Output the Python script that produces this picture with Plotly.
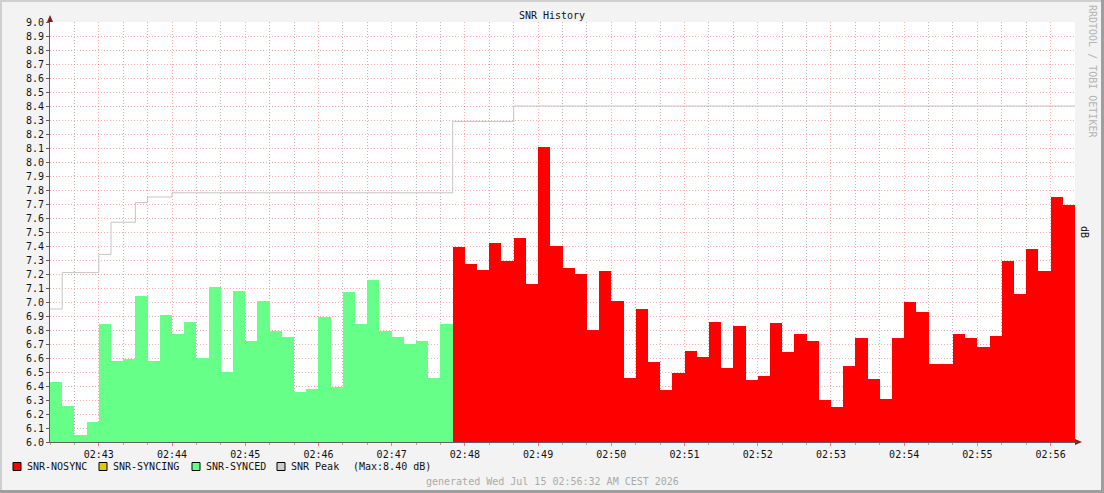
import plotly.graph_objects as go
import pandas as pd

# SNR samples, 10 s steps from 02:42:20
synced = [6.43, 6.26, 6.05, 6.14, 6.84, 6.58, 6.59, 7.04, 6.58, 6.91,
          6.77, 6.86, 6.60, 7.11, 6.50, 7.08, 6.72, 7.01, 6.79, 6.75,
          6.36, 6.38, 6.89, 6.39, 7.07, 6.84, 7.16, 6.79, 6.75, 6.70,
          6.72, 6.46, 6.84]
nosync = [7.39, 7.27, 7.23, 7.42, 7.29, 7.46, 7.13, 8.11, 7.40, 7.24,
          7.20, 6.80, 7.22, 7.01, 6.46, 6.95, 6.57, 6.37, 6.49, 6.65,
          6.61, 6.86, 6.53, 6.83, 6.44, 6.47, 6.85, 6.64, 6.77, 6.72,
          6.30, 6.25, 6.54, 6.74, 6.45, 6.31, 6.74, 7.00, 6.93, 6.56,
          6.56, 6.77, 6.74, 6.68, 6.76, 7.29, 7.06, 7.38, 7.22, 7.75,
          7.69]
peak = ([6.95] + [7.21] * 3 + [7.34] + [7.57] * 2 + [7.71] + [7.75] * 2
        + [7.78] * 23 + [8.29] * 5 + [8.40] * 46)

starts = pd.date_range("2026-07-15 02:42:20", periods=len(synced) + len(nosync), freq="10s")
centers = starts + pd.Timedelta(seconds=5)
end = starts[-1] + pd.Timedelta(seconds=10)

W, H = 1104, 493
L, R, T, B = 50, 1075, 22, 442


def px(x):
    return (x - L) / (R - L)


def py(y):
    return (B - y) / (B - T)


MONO = "DejaVu Sans Mono"
fig = go.Figure()
fig.add_trace(go.Bar(x=centers[:len(synced)], y=synced, width=10000,
                     marker=dict(color="#66FF88", line=dict(width=0)), name="SNR-SYNCED"))
fig.add_trace(go.Bar(x=centers[len(synced):], y=nosync, width=10000,
                     marker=dict(color="#FF0000", line=dict(width=0)), name="SNR-NOSYNC"))
fig.add_trace(go.Scatter(x=list(starts) + [end], y=peak + [peak[-1]], mode="lines",
                         line=dict(color="#c4c4c4", width=1, shape="hv"), name="SNR Peak"))

fig.update_layout(
    width=W, height=H,
    margin=dict(l=L, r=W - R, t=T, b=H - B),
    paper_bgcolor="#f3f3f3", plot_bgcolor="#ffffff",
    bargap=0, showlegend=False,
    font=dict(family=MONO, size=10, color="#111"),
    title=dict(text="SNR History", x=0.5, xanchor="center", xref="container",
               y=1 - 15 / H, yanchor="middle", font=dict(family=MONO, size=10, color="#111")),
)
fig.update_xaxes(
    type="date", range=[starts[0], end],
    tick0="2026-07-15 02:43:00", dtick=60000, tickformat="%H:%M",
    showgrid=True, gridcolor="rgba(255,90,90,0.5)", griddash="1px,2px", gridwidth=1,
    ticks="outside", ticklen=3, tickcolor="rgba(255,90,90,0.8)",
    minor=dict(dtick=20000, tick0="2026-07-15 02:43:00", showgrid=True,
               gridcolor="rgba(130,130,130,0.55)", griddash="1px,2px",
               ticks="outside", ticklen=2, tickcolor="#aaaaaa"),
    showline=True, linecolor="#606060", linewidth=1, zeroline=False,
    tickfont=dict(family=MONO, size=10, color="#111"),
)
fig.update_yaxes(
    range=[6, 9], dtick=0.1, tick0=6, tickformat=".1f",
    showgrid=True, gridcolor="rgba(255,90,90,0.5)", griddash="1px,2px", gridwidth=1,
    ticks="outside", ticklen=3, tickcolor="#606060",
    showline=True, linecolor="#606060", linewidth=1, zeroline=False,
    tickfont=dict(family=MONO, size=10, color="#111"),
)

shapes = []
# arrows on the axes
shapes.append(dict(type="path", xref="paper", yref="paper", line=dict(width=0), fillcolor="#8a1c1c",
                   path=f"M {px(47)} {py(22)} L {px(53)} {py(22)} L {px(50)} {py(15)} Z"))
shapes.append(dict(type="path", xref="paper", yref="paper", line=dict(width=0), fillcolor="#8a1c1c",
                   path=f"M {px(1075)} {py(439)} L {px(1075)} {py(445)} L {px(1082)} {py(442)} Z"))
shapes.append(dict(type="line", xref="paper", yref="paper", x0=px(1075), x1=px(1077), y0=0, y1=0,
                   line=dict(color="#606060", width=1)))
# frame
shapes.append(dict(type="rect", xref="paper", yref="paper", x0=px(0), x1=px(W), y0=py(0), y1=py(2),
                   line=dict(width=0), fillcolor="#cfcfcf"))
shapes.append(dict(type="rect", xref="paper", yref="paper", x0=px(0), x1=px(2), y0=py(0), y1=py(H),
                   line=dict(width=0), fillcolor="#cfcfcf"))
shapes.append(dict(type="rect", xref="paper", yref="paper", x0=px(0), x1=px(W), y0=py(H - 3), y1=py(H),
                   line=dict(width=0), fillcolor="#9e9e9e"))
shapes.append(dict(type="rect", xref="paper", yref="paper", x0=px(W - 3), x1=px(W), y0=py(0), y1=py(H),
                   line=dict(width=0), fillcolor="#9e9e9e"))

legend_items = [("#FF0000", 13, "SNR-NOSYNC", 26), ("#DDCC00", 99, "SNR-SYNCING", 112),
                ("#66FF88", 192, "SNR-SYNCED", 205), ("#CCCCCC", 277, "SNR Peak", 290)]
annotations = []
for color, bx, label, tx in legend_items:
    shapes.append(dict(type="rect", xref="paper", yref="paper", x0=px(bx), x1=px(bx + 8),
                       y0=py(462.5), y1=py(470.5), fillcolor=color, line=dict(color="#000", width=1)))
    annotations.append(dict(text=label, x=px(tx), y=py(466.5), xref="paper", yref="paper",
                            xanchor="left", yanchor="middle", showarrow=False, borderpad=0))
annotations.append(dict(text="(Max:8.40 dB)", x=px(352), y=py(466.5), xref="paper", yref="paper",
                        xanchor="left", yanchor="middle", showarrow=False, borderpad=0))
annotations.append(dict(text="generated Wed Jul 15 02:56:32 AM CEST 2026", x=px(552), y=py(481),
                        xref="paper", yref="paper", xanchor="center", yanchor="middle",
                        showarrow=False, font=dict(color="#aaaaaa")))
annotations.append(dict(text="RRDTOOL / TOBI OETIKER", x=px(1093), y=py(71), xref="paper", yref="paper",
                        xanchor="center", yanchor="middle", textangle=90, showarrow=False,
                        font=dict(color="#b4b4b4")))
annotations.append(dict(text="dB", x=px(1085), y=py(232), xref="paper", yref="paper",
                        xanchor="center", yanchor="middle", textangle=90, showarrow=False))
fig.update_layout(shapes=shapes, annotations=annotations)

# page has a default 8px body margin; drop it so the figure sits at the window corner
fig.write_html("out.html", config={"displayModeBar": False},
               post_script="document.body.style.margin='0';")
